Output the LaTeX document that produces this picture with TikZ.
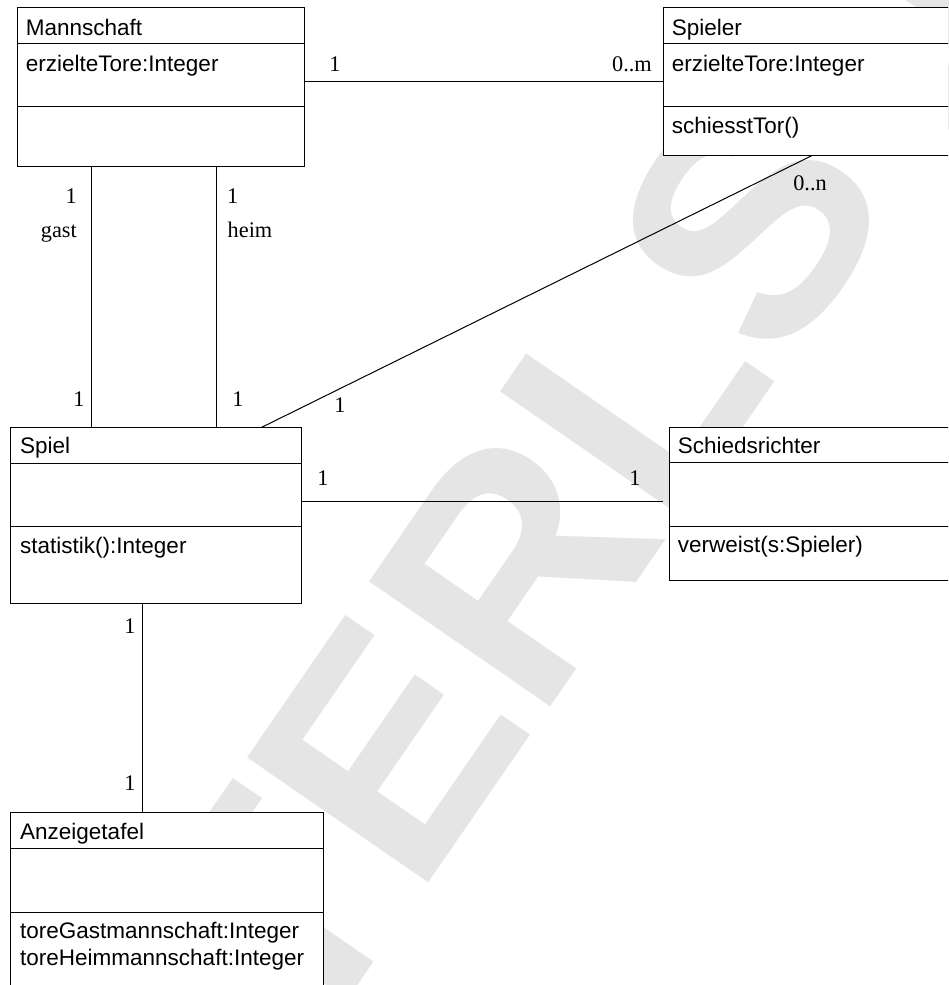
\documentclass[tikz,border=0pt]{standalone}
\usepackage{fontspec}
\setmainfont{Liberation Serif}
\setsansfont{Liberation Sans}
\usetikzlibrary{calc,positioning}

\begin{document}
\begin{tikzpicture}[x=1pt,y=-1pt,
  klasse/.style={draw,fill=white,line width=1pt,anchor=north west,inner sep=0pt,outer sep=0pt},
  eintrag/.style={anchor=base west,inner sep=0pt,font=\sffamily\fontsize{22.5}{27}\selectfont},
  mult/.style={anchor=base,inner sep=0pt,font=\fontsize{22.3}{27}\selectfont},
  link/.style={line width=1pt},
  wasser/.style={anchor=base west,inner sep=0pt,text=black!10,
    font=\sffamily\bfseries\fontsize{320}{320}\selectfont}]

\useasboundingbox (0,0) rectangle (948,985);
\clip (0,0) rectangle (948,985);

% watermark (the umlaut is missing in the original)
\node[wasser,rotate=55.4] (wz) at (-98,1647) {MUSTERLSUNG};

% classes
\node[klasse,minimum width=286.7pt,minimum height=159.4pt] (man) at (17.3,7.3) {};
\node[klasse,minimum width=300pt,minimum height=148.4pt] (spl) at (663.3,7.3) {};
\node[klasse,minimum width=290.3pt,minimum height=176pt] (spiel) at (10.7,427.3) {};
\node[klasse,minimum width=300pt,minimum height=153pt] (sch) at (669.3,427.7) {};
\node[klasse,minimum width=312.6pt,minimum height=200pt] (anz) at (10.7,812.7) {};

\foreach \k/\a/\b in {man/36/99.4,spl/36/99.4,spiel/36/99.4,sch/35/98.3,anz/35.6/99.6}
  \draw[link] ($(\k.north west)+(0,\a)$) -- ($(\k.north east)+(0,\a)$)
              ($(\k.north west)+(0,\b)$) -- ($(\k.north east)+(0,\b)$);

\node[eintrag] (manName) at ($(man.north west)+(8.4,27.7)$) {Mannschaft};
\node[eintrag] (manAttr) at ($(man.north west)+(8.4,64.4)$) {erzielteTore:Integer};
\node[eintrag] (splName) at ($(spl.north west)+(8.4,27.7)$) {Spieler};
\node[eintrag] (splAttr) at ($(spl.north west)+(8.4,64.4)$) {erzielteTore:Integer};
\node[eintrag] (splOp) at ($(spl.north west)+(8.4,126)$) {schiesstTor()};
\node[eintrag] (spielName) at ($(spiel.north west)+(9.3,26)$) {Spiel};
\node[eintrag] (spielOp) at ($(spiel.north west)+(9.3,126)$) {statistik():Integer};
\node[eintrag] (schName) at ($(sch.north west)+(8.4,26)$) {Schiedsrichter};
\node[eintrag] (schOp) at ($(sch.north west)+(8.4,125)$) {verweist(s:Spieler)};
\node[eintrag] (anzName) at ($(anz.north west)+(9.3,26.6)$) {Anzeigetafel};
\node[eintrag] (anzOpA) at ($(anz.north west)+(9.3,125.6)$) {toreGastmannschaft:Integer};
\node[eintrag] (anzOpB) at ($(anz.north west)+(9.3,152.6)$) {toreHeimmannschaft:Integer};

% associations
\coordinate (gastO) at ($(man.south west)+(74.4,0)$);
\coordinate (heimO) at ($(man.south west)+(198.7,0)$);
\coordinate (diagU) at ($(spiel.north west)+(251,0)$);
\coordinate (diagO) at ($(spl.south west)+(148.4,0)$);
\coordinate (schL) at ($(sch.north west)+(-6,74)$);
\coordinate (anzO) at ($(anz.north west)+(131.6,0)$);

\draw[link] (man.east |- spl.west) -- (spl.west);
\draw[link] (gastO) -- (gastO |- spiel.north);
\draw[link] (heimO) -- (heimO |- spiel.north);
\draw[link] (diagU) -- (diagO);
\draw[link] (spiel.east |- schL) -- (schL);
\draw[link] (anzO) -- (anzO |- spiel.south);

% multiplicities and roles
\node[mult] (mA) at (335,71.5) {1};
\node[mult] (mB) at (632,71.5) {0..m};
\node[mult,anchor=base east] (gA) at (77,203) {1};
\node[mult,anchor=base east] (gR) at (77,237) {gast};
\node[mult,anchor=base west] (hA) at (227,203) {1};
\node[mult,anchor=base west] (hR) at (227.5,237) {heim};
\node[mult] (gB) at (79,406) {1};
\node[mult] (hB) at (238,406) {1};
\node[mult] (dU) at (340,412) {1};
\node[mult] (dO) at (810,190) {0..n};
\node[mult] (sA) at (323,485) {1};
\node[mult] (sB) at (635,485) {1};
\node[mult] (aA) at (130,633.3) {1};
\node[mult] (aB) at (130,790.7) {1};
\end{tikzpicture}
\end{document}
